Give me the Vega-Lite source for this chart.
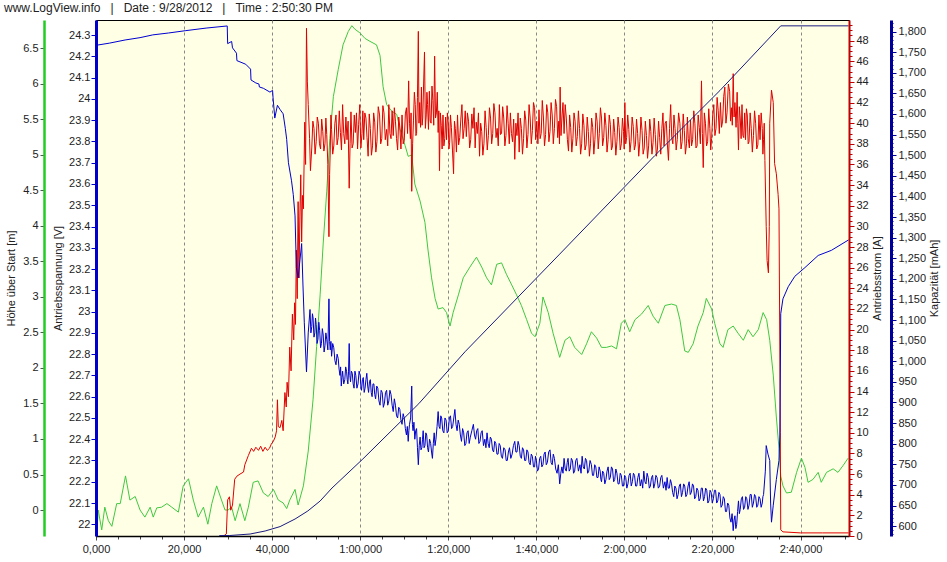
{
  "$schema": "https://vega.github.io/schema/vega-lite/v6.json",
  "width": 753,
  "height": 516,
  "autosize": "none",
  "padding": {"left": 96, "top": 20, "right": 98, "bottom": 26},
  "background": "#FFFFFF",
  "config": {
    "font": "Liberation Sans",
    "view": {"fill": "#FFFFE6", "stroke": "#000000", "strokeWidth": 1},
    "axis": {"labelFont": "Liberation Sans", "titleFont": "Liberation Sans", "labelFontSize": 11, "titleFontSize": 11, "titleFontWeight": "normal", "labelColor": "#222222", "titleColor": "#222222", "labelFlush": false, "labelOverlap": false, "labelBound": false}
  },
  "title": {"text": "www.LogView.info\u00a0\u00a0\u00a0|\u00a0\u00a0\u00a0Date : 9/28/2012\u00a0\u00a0\u00a0|\u00a0\u00a0\u00a0Time : 2:50:30 PM", "anchor": "start", "frame": "group", "dx": -92, "offset": 2, "fontSize": 12, "fontWeight": "normal", "font": "Liberation Sans", "color": "#222222"},
  "datasets": {
    "hoehe": [
      {"t":0.2,"v":-0.3},{"t":0.5,"v":0.0},{"t":1.3,"v":-0.28},{"t":2.0,"v":0.04},{"t":2.8,"v":-0.15},{"t":3.6,"v":-0.23},{"t":4.7,"v":0.09},{"t":5.5,"v":0.09},{"t":6.7,"v":0.48},{"t":7.7,"v":0.14},{"t":8.9,"v":0.19},{"t":10.0,"v":0.0},{"t":11.1,"v":-0.1},{"t":12.3,"v":0.04},{"t":13.0,"v":-0.1},{"t":13.8,"v":0.03},{"t":14.9,"v":0.04},{"t":16.1,"v":0.09},{"t":17.2,"v":0.04},{"t":18.7,"v":-0.03},{"t":19.8,"v":0.34},{"t":21.0,"v":0.44},{"t":22.1,"v":0.14},{"t":23.2,"v":-0.1},{"t":24.4,"v":0.04},{"t":25.4,"v":-0.2},{"t":26.3,"v":0.09},{"t":27.4,"v":0.34},{"t":28.5,"v":0.14},{"t":29.3,"v":0.0},{"t":30.0,"v":0.0},{"t":30.8,"v":0.04},{"t":31.6,"v":-0.15},{"t":32.7,"v":0.09},{"t":33.8,"v":-0.15},{"t":34.6,"v":0.04},{"t":35.7,"v":0.39},{"t":36.8,"v":0.41},{"t":38.0,"v":0.24},{"t":39.1,"v":0.19},{"t":40.3,"v":0.29},{"t":41.4,"v":0.14},{"t":42.5,"v":0.1},{"t":43.3,"v":0.02},{"t":44.0,"v":0.14},{"t":45.2,"v":0.29},{"t":45.9,"v":0.07},{"t":47.1,"v":0.34},{"t":48.2,"v":0.83},{"t":49.3,"v":1.56},{"t":50.1,"v":2.3},{"t":50.9,"v":3.03},{"t":51.6,"v":3.76},{"t":52.4,"v":4.49},{"t":53.1,"v":5.23},{"t":53.9,"v":5.82},{"t":55.0,"v":6.2},{"t":56.1,"v":6.55},{"t":57.3,"v":6.74},{"t":58.1,"v":6.82},{"t":58.8,"v":6.77},{"t":59.9,"v":6.72},{"t":61.1,"v":6.64},{"t":62.2,"v":6.6},{"t":63.7,"v":6.55},{"t":64.5,"v":6.4},{"t":65.2,"v":5.96},{"t":66.0,"v":5.71},{"t":67.1,"v":5.62},{"t":68.3,"v":5.57},{"t":69.0,"v":5.37},{"t":70.2,"v":5.13},{"t":70.9,"v":4.98},{"t":71.7,"v":5.0},{"t":72.4,"v":4.59},{"t":73.6,"v":4.35},{"t":74.7,"v":4.05},{"t":75.4,"v":3.66},{"t":76.2,"v":3.27},{"t":77.0,"v":2.98},{"t":77.7,"v":2.83},{"t":78.8,"v":2.85},{"t":79.6,"v":2.78},{"t":80.4,"v":2.59},{"t":81.1,"v":2.78},{"t":82.3,"v":3.03},{"t":83.4,"v":3.27},{"t":84.9,"v":3.42},{"t":86.4,"v":3.56},{"t":87.6,"v":3.42},{"t":88.7,"v":3.27},{"t":89.8,"v":3.17},{"t":91.0,"v":3.46},{"t":92.1,"v":3.48},{"t":93.2,"v":3.32},{"t":94.4,"v":3.17},{"t":95.5,"v":3.03},{"t":96.6,"v":2.88},{"t":97.8,"v":2.68},{"t":98.9,"v":2.49},{"t":99.7,"v":2.44},{"t":100.8,"v":2.63},{"t":101.5,"v":3.0},{"t":102.7,"v":2.78},{"t":103.8,"v":2.49},{"t":105.3,"v":2.15},{"t":106.5,"v":2.39},{"t":107.6,"v":2.44},{"t":108.7,"v":2.29},{"t":110.3,"v":2.19},{"t":111.4,"v":2.34},{"t":112.5,"v":2.51},{"t":113.7,"v":2.42},{"t":114.8,"v":2.29},{"t":115.9,"v":2.29},{"t":117.1,"v":2.31},{"t":118.2,"v":2.27},{"t":119.3,"v":2.63},{"t":120.1,"v":2.68},{"t":121.2,"v":2.51},{"t":122.4,"v":2.68},{"t":123.9,"v":2.76},{"t":125.4,"v":2.88},{"t":126.5,"v":2.73},{"t":127.7,"v":2.63},{"t":129.2,"v":2.88},{"t":130.7,"v":2.9},{"t":131.8,"v":2.88},{"t":132.6,"v":2.68},{"t":133.7,"v":2.24},{"t":134.5,"v":2.22},{"t":135.6,"v":2.34},{"t":136.7,"v":2.59},{"t":137.9,"v":2.78},{"t":138.6,"v":2.98},{"t":139.8,"v":2.83},{"t":140.5,"v":2.63},{"t":141.7,"v":2.34},{"t":142.4,"v":2.29},{"t":143.5,"v":2.54},{"t":144.7,"v":2.59},{"t":145.8,"v":2.49},{"t":147.0,"v":2.39},{"t":148.1,"v":2.54},{"t":149.2,"v":2.44},{"t":150.4,"v":2.54},{"t":151.5,"v":2.78},{"t":152.3,"v":2.68},{"t":153.0,"v":2.39},{"t":153.8,"v":1.9},{"t":154.5,"v":1.31},{"t":155.1,"v":0.87},{"t":155.5,"v":0.48},{"t":156.0,"v":0.34},{"t":156.8,"v":0.24},{"t":157.9,"v":0.25},{"t":159.1,"v":0.53},{"t":160.2,"v":0.73},{"t":161.0,"v":0.6},{"t":161.7,"v":0.39},{"t":162.8,"v":0.43},{"t":164.0,"v":0.53},{"t":164.7,"v":0.39},{"t":165.9,"v":0.53},{"t":167.4,"v":0.58},{"t":168.5,"v":0.53},{"t":169.7,"v":0.63},{"t":170.8,"v":0.73}
    ],
    "strom": [
      {"t":29.0,"v":0},{"t":29.6,"v":0.2},{"t":29.9,"v":3.5},{"t":30.3,"v":3.8},{"t":30.6,"v":2.5},{"t":31.0,"v":3.0},{"t":31.5,"v":5.5},{"t":32.0,"v":5.8},{"t":32.7,"v":6.0},{"t":33.5,"v":6.2},{"t":33.8,"v":6.9},{"t":34.6,"v":7.8},{"t":35.3,"v":8.5},{"t":35.8,"v":8.2},{"t":36.3,"v":8.6},{"t":36.9,"v":8.3},{"t":37.4,"v":8.7},{"t":37.9,"v":8.2},{"t":38.4,"v":8.6},{"t":38.9,"v":8.3},{"t":39.4,"v":8.5},{"t":39.8,"v":8.9},{"t":40.3,"v":9.2},{"t":40.7,"v":9.6},{"t":41.0,"v":10.2},{"t":41.2,"v":13.2},{"t":41.4,"v":10.6},{"t":41.8,"v":10.5},{"t":42.2,"v":11.2},{"t":42.5,"v":10.2},{"t":42.9,"v":13.9},{"t":43.2,"v":12.5},{"t":43.4,"v":14.9},{"t":43.7,"v":13.5},{"t":44.0,"v":18.3},{"t":44.3,"v":16.0},{"t":44.6,"v":21.5},{"t":44.9,"v":19.0},{"t":45.1,"v":22.6},{"t":45.3,"v":20.5},{"t":45.5,"v":27.7},{"t":45.7,"v":23.0},{"t":45.9,"v":32.4},{"t":46.1,"v":25.0},{"t":46.3,"v":31.0},{"t":46.5,"v":35.0},{"t":46.7,"v":28.5},{"t":46.9,"v":33.0},{"t":47.1,"v":31.7},{"t":47.4,"v":40.1},{"t":47.6,"v":36.0},{"t":47.8,"v":49.2},{"t":48.0,"v":44.0},{"t":48.2,"v":41.8},{"t":48.5,"v":38.5},{"t":48.7,"v":35.4},
      {"t":49.0,"v":37.6},{"t":49.25,"v":40.2},{"t":49.5,"v":39.5},{"t":49.75,"v":37.0},{"t":50.0,"v":38.2},{"t":50.25,"v":40.6},{"t":50.5,"v":40.0},{"t":50.75,"v":38.0},{"t":51.0,"v":37.5},{"t":51.25,"v":40.4},{"t":51.5,"v":39.2},{"t":51.75,"v":37.3},{"t":52.0,"v":38.0},{"t":52.2,"v":40.5},{"t":52.4,"v":38.9},{"t":52.65,"v":36.0},{"t":52.9,"v":29.0},{"t":53.05,"v":35.0},{"t":53.2,"v":37.5},{"t":53.35,"v":40.8},{"t":53.5,"v":39.4},{"t":53.75,"v":37.0},{"t":54.0,"v":37.8},{"t":54.25,"v":40.0},{"t":54.5,"v":40.8},{"t":54.75,"v":37.9},{"t":55.0,"v":38.6},{"t":55.25,"v":41.2},{"t":55.5,"v":39.1},{"t":55.75,"v":37.4},{"t":56.0,"v":41.8},{"t":56.25,"v":39.0},{"t":56.5,"v":38.0},{"t":56.75,"v":40.6},{"t":57.0,"v":38.4},{"t":57.25,"v":40.2},{"t":57.5,"v":33.7},{"t":57.7,"v":38.0},{"t":57.9,"v":41.1},{"t":58.15,"v":37.6},{"t":58.4,"v":38.0},{"t":58.65,"v":40.8},{"t":58.9,"v":39.1},{"t":59.15,"v":41.0},{"t":59.4,"v":37.5},{"t":59.65,"v":39.9},{"t":59.9,"v":41.8},{"t":60.15,"v":37.6},{"t":60.4,"v":39.0},{"t":60.6,"v":41.2},{"t":60.8,"v":38.4},{"t":61.05,"v":41.0},{"t":61.3,"v":40.5},{"t":61.55,"v":38.6},{"t":61.8,"v":36.8},{"t":62.05,"v":40.9},{"t":62.3,"v":39.5},{"t":62.55,"v":36.9},{"t":62.8,"v":37.8},{"t":63.05,"v":41.0},{"t":63.3,"v":40.1},{"t":63.55,"v":37.2},{"t":63.8,"v":38.2},{"t":64.1,"v":41.6},{"t":64.4,"v":40.8},{"t":64.65,"v":38.0},{"t":64.9,"v":38.5},{"t":65.15,"v":41.7},{"t":65.4,"v":41.0},{"t":65.7,"v":38.4},{"t":66.0,"v":39.4},{"t":66.25,"v":37.8},{"t":66.5,"v":41.8},{"t":66.75,"v":39.0},{"t":67.0,"v":38.5},{"t":67.25,"v":41.2},{"t":67.5,"v":38.8},{"t":67.75,"v":41.5},{"t":68.0,"v":40.2},{"t":68.25,"v":38.5},{"t":68.5,"v":37.4},{"t":68.75,"v":40.6},{"t":69.0,"v":39.6},{"t":69.25,"v":37.5},{"t":69.5,"v":40.8},{"t":69.75,"v":38.0},{"t":70.0,"v":38.3},{"t":70.25,"v":40.9},{"t":70.5,"v":41.5},{"t":70.75,"v":39.0},{"t":71.0,"v":44.1},{"t":71.2,"v":40.0},{"t":71.4,"v":38.5},{"t":71.55,"v":41.0},{"t":71.7,"v":33.4},{"t":71.9,"v":38.0},{"t":72.1,"v":40.3},{"t":72.3,"v":43.0},{"t":72.5,"v":41.8},{"t":72.65,"v":38.8},{"t":72.8,"v":39.0},{"t":73.0,"v":42.5},{"t":73.2,"v":48.9},{"t":73.35,"v":40.0},{"t":73.5,"v":42.0},{"t":73.7,"v":39.6},{"t":73.9,"v":43.5},{"t":74.05,"v":39.8},{"t":74.2,"v":40.5},{"t":74.4,"v":43.8},{"t":74.6,"v":46.9},{"t":74.8,"v":39.5},{"t":75.0,"v":40.8},{"t":75.15,"v":43.0},{"t":75.3,"v":41.8},{"t":75.5,"v":39.4},{"t":75.7,"v":43.1},{"t":75.9,"v":40.2},{"t":76.1,"v":40.0},{"t":76.3,"v":43.6},{"t":76.5,"v":42.2},{"t":76.7,"v":39.8},{"t":76.9,"v":46.5},{"t":77.1,"v":40.5},{"t":77.3,"v":41.0},{"t":77.5,"v":43.0},{"t":77.7,"v":39.1},{"t":77.85,"v":41.2},{"t":78.0,"v":35.4},{"t":78.2,"v":41.0},{"t":78.4,"v":39.8},{"t":78.6,"v":37.5},{"t":78.8,"v":40.8},{"t":79.0,"v":37.8},{"t":79.2,"v":38.5},{"t":79.4,"v":40.6},{"t":79.6,"v":38.4},{"t":79.8,"v":41.0},{"t":80.0,"v":40.0},{"t":80.15,"v":37.5},{"t":80.3,"v":38.1},{"t":80.5,"v":40.8},{"t":80.7,"v":39.6},{"t":80.95,"v":37.4},{"t":81.2,"v":35.1},{"t":81.4,"v":40.2},{"t":81.6,"v":39.5},{"t":81.85,"v":37.2},{"t":82.1,"v":40.8},{"t":82.35,"v":37.9},{"t":82.6,"v":38.6},{"t":82.85,"v":40.4},{"t":83.1,"v":41.8},{"t":83.35,"v":38.5},{"t":83.6,"v":39.5},{"t":83.85,"v":41.2},{"t":84.1,"v":38.7},{"t":84.35,"v":41.0},{"t":84.6,"v":40.2},{"t":84.85,"v":37.6},{"t":85.1,"v":38.4},{"t":85.35,"v":40.9},{"t":85.6,"v":39.5},{"t":85.85,"v":41.5},{"t":86.1,"v":37.6},{"t":86.35,"v":40.1},{"t":86.6,"v":39.0},{"t":86.85,"v":41.0},{"t":87.1,"v":36.8},{"t":87.35,"v":40.0},{"t":87.6,"v":39.2},{"t":87.85,"v":36.9},{"t":88.1,"v":38.0},{"t":88.35,"v":41.2},{"t":88.6,"v":39.6},{"t":88.85,"v":37.4},{"t":89.1,"v":38.8},{"t":89.35,"v":41.5},{"t":89.6,"v":40.5},{"t":89.85,"v":38.0},{"t":90.1,"v":39.0},{"t":90.35,"v":41.9},{"t":90.6,"v":41.0},{"t":90.85,"v":38.6},{"t":91.1,"v":39.5},{"t":91.35,"v":37.8},{"t":91.6,"v":41.8},{"t":91.85,"v":38.9},{"t":92.1,"v":39.0},{"t":92.35,"v":41.6},{"t":92.6,"v":40.5},{"t":92.85,"v":37.8},{"t":93.1,"v":38.8},{"t":93.35,"v":41.7},{"t":93.6,"v":40.0},{"t":93.85,"v":38.0},{"t":94.1,"v":41.0},{"t":94.35,"v":39.0},{"t":94.6,"v":38.2},{"t":94.85,"v":40.4},{"t":95.1,"v":36.5},{"t":95.35,"v":40.0},{"t":95.6,"v":38.8},{"t":95.85,"v":41.0},{"t":96.1,"v":37.2},{"t":96.35,"v":40.5},{"t":96.6,"v":39.5},{"t":96.85,"v":37.0},{"t":97.1,"v":38.5},{"t":97.35,"v":41.2},{"t":97.6,"v":40.3},{"t":97.85,"v":37.6},{"t":98.1,"v":38.9},{"t":98.35,"v":41.8},{"t":98.6,"v":40.5},{"t":98.85,"v":38.0},{"t":99.1,"v":39.3},{"t":99.35,"v":42.0},{"t":99.6,"v":41.5},{"t":99.85,"v":38.4},{"t":100.1,"v":40.2},{"t":100.35,"v":38.0},{"t":100.6,"v":41.3},{"t":100.85,"v":38.5},{"t":101.1,"v":39.0},{"t":101.35,"v":42.2},{"t":101.6,"v":40.6},{"t":101.85,"v":37.8},{"t":102.1,"v":38.9},{"t":102.35,"v":41.8},{"t":102.6,"v":41.0},{"t":102.85,"v":38.2},{"t":103.1,"v":39.2},{"t":103.35,"v":42.0},{"t":103.6,"v":40.8},{"t":103.85,"v":38.0},{"t":104.1,"v":39.5},{"t":104.35,"v":42.3},{"t":104.6,"v":41.6},{"t":104.85,"v":38.6},{"t":105.1,"v":40.2},{"t":105.25,"v":38.0},{"t":105.4,"v":43.5},{"t":105.6,"v":38.8},{"t":105.8,"v":40.5},{"t":106.05,"v":42.0},{"t":106.3,"v":39.0},{"t":106.55,"v":41.8},{"t":106.8,"v":40.5},{"t":107.05,"v":38.4},{"t":107.3,"v":37.3},{"t":107.55,"v":40.8},{"t":107.8,"v":39.6},{"t":108.05,"v":37.2},{"t":108.3,"v":38.5},{"t":108.55,"v":41.0},{"t":108.8,"v":40.2},{"t":109.05,"v":37.8},{"t":109.3,"v":38.7},{"t":109.55,"v":41.2},{"t":109.8,"v":39.5},{"t":110.05,"v":37.0},{"t":110.3,"v":38.0},{"t":110.55,"v":40.9},{"t":110.8,"v":39.8},{"t":111.05,"v":37.4},{"t":111.3,"v":37.9},{"t":111.55,"v":40.6},{"t":111.8,"v":39.2},{"t":112.05,"v":36.8},{"t":112.3,"v":38.0},{"t":112.55,"v":40.5},{"t":112.8,"v":39.6},{"t":113.05,"v":37.0},{"t":113.3,"v":38.4},{"t":113.55,"v":41.0},{"t":113.8,"v":40.2},{"t":114.05,"v":37.5},{"t":114.3,"v":39.0},{"t":114.55,"v":41.5},{"t":114.8,"v":40.5},{"t":115.05,"v":37.8},{"t":115.3,"v":38.6},{"t":115.55,"v":41.0},{"t":115.8,"v":39.8},{"t":116.05,"v":37.2},{"t":116.3,"v":38.4},{"t":116.55,"v":40.8},{"t":116.8,"v":39.9},{"t":117.05,"v":37.4},{"t":117.3,"v":37.8},{"t":117.55,"v":40.4},{"t":117.8,"v":39.1},{"t":118.05,"v":36.9},{"t":118.3,"v":38.2},{"t":118.55,"v":40.6},{"t":118.8,"v":39.6},{"t":119.05,"v":37.4},{"t":119.3,"v":38.0},{"t":119.55,"v":40.5},{"t":119.8,"v":39.2},{"t":119.95,"v":37.5},{"t":120.1,"v":42.0},{"t":120.3,"v":38.0},{"t":120.5,"v":38.6},{"t":120.75,"v":40.8},{"t":121.0,"v":39.4},{"t":121.25,"v":37.2},{"t":121.5,"v":38.2},{"t":121.75,"v":40.6},{"t":122.0,"v":39.7},{"t":122.25,"v":37.4},{"t":122.5,"v":37.9},{"t":122.75,"v":40.4},{"t":123.0,"v":39.0},{"t":123.25,"v":36.8},{"t":123.5,"v":38.2},{"t":123.75,"v":40.6},{"t":124.0,"v":39.3},{"t":124.25,"v":37.0},{"t":124.5,"v":37.6},{"t":124.75,"v":40.2},{"t":125.0,"v":38.8},{"t":125.25,"v":36.6},{"t":125.5,"v":37.8},{"t":125.75,"v":40.4},{"t":126.0,"v":39.2},{"t":126.25,"v":37.0},{"t":126.5,"v":38.1},{"t":126.75,"v":40.5},{"t":127.0,"v":38.9},{"t":127.25,"v":36.8},{"t":127.5,"v":37.5},{"t":127.75,"v":40.2},{"t":128.0,"v":38.6},{"t":128.25,"v":37.0},{"t":128.5,"v":39.5},{"t":128.75,"v":41.0},{"t":129.0,"v":37.8},{"t":129.25,"v":40.0},{"t":129.5,"v":40.2},{"t":129.75,"v":38.0},{"t":130.0,"v":36.4},{"t":130.25,"v":39.5},{"t":130.5,"v":41.8},{"t":130.75,"v":38.6},{"t":131.0,"v":38.0},{"t":131.25,"v":40.8},{"t":131.5,"v":39.5},{"t":131.75,"v":37.4},{"t":132.0,"v":38.4},{"t":132.3,"v":41.0},{"t":132.6,"v":40.0},{"t":132.85,"v":37.5},{"t":133.1,"v":38.2},{"t":133.35,"v":40.9},{"t":133.6,"v":39.3},{"t":133.85,"v":37.0},{"t":134.1,"v":38.0},{"t":134.3,"v":40.6},{"t":134.5,"v":38.5},{"t":134.75,"v":37.6},{"t":135.0,"v":40.3},{"t":135.25,"v":37.8},{"t":135.5,"v":38.4},{"t":135.75,"v":41.2},{"t":136.0,"v":40.0},{"t":136.25,"v":37.6},{"t":136.5,"v":37.8},{"t":136.75,"v":40.8},{"t":137.0,"v":39.6},{"t":137.25,"v":38.0},{"t":137.5,"v":44.1},{"t":137.7,"v":39.0},{"t":137.9,"v":35.7},{"t":138.15,"v":41.0},{"t":138.4,"v":40.0},{"t":138.65,"v":37.8},{"t":138.9,"v":38.2},{"t":139.15,"v":41.4},{"t":139.4,"v":39.5},{"t":139.6,"v":37.4},{"t":139.8,"v":38.5},{"t":140.05,"v":40.8},{"t":140.3,"v":41.8},{"t":140.55,"v":38.8},{"t":140.8,"v":39.5},{"t":141.05,"v":42.5},{"t":141.3,"v":41.2},{"t":141.55,"v":39.0},{"t":141.8,"v":42.0},{"t":142.05,"v":39.6},{"t":142.3,"v":40.2},{"t":142.55,"v":42.6},{"t":142.8,"v":43.5},{"t":143.05,"v":40.0},{"t":143.3,"v":41.0},{"t":143.6,"v":43.8},{"t":143.9,"v":43.1},{"t":144.1,"v":40.2},{"t":144.3,"v":41.5},{"t":144.5,"v":39.8},{"t":144.7,"v":44.8},{"t":144.9,"v":40.6},{"t":145.1,"v":42.0},{"t":145.35,"v":39.6},{"t":145.6,"v":43.0},{"t":145.75,"v":40.0},{"t":145.9,"v":37.4},{"t":146.1,"v":41.6},{"t":146.3,"v":40.5},{"t":146.5,"v":38.5},{"t":146.7,"v":41.8},{"t":146.9,"v":38.8},{"t":147.1,"v":38.6},{"t":147.3,"v":41.0},{"t":147.5,"v":38.4},{"t":147.7,"v":41.4},{"t":147.9,"v":40.8},{"t":148.1,"v":38.0},{"t":148.3,"v":38.2},{"t":148.55,"v":41.0},{"t":148.8,"v":39.5},{"t":149.05,"v":37.2},{"t":149.3,"v":38.8},{"t":149.55,"v":41.2},{"t":149.8,"v":40.0},{"t":150.05,"v":37.5},{"t":150.3,"v":37.9},{"t":150.55,"v":40.8},{"t":150.8,"v":38.4},{"t":151.05,"v":41.0},{"t":151.3,"v":39.5},{"t":151.45,"v":37.0},{"t":151.6,"v":38.4},{"t":151.75,"v":40.0},{"t":151.9,"v":36.4},{"t":152.2,"v":30.0},{"t":152.4,"v":26.7},{"t":152.7,"v":25.5},{"t":152.9,"v":30.0},{"t":153.0,"v":40.0},{"t":153.4,"v":43.2},{"t":153.8,"v":42.0},{"t":154.1,"v":36.1},{"t":154.5,"v":35.1},{"t":154.9,"v":33.1},{"t":155.1,"v":31.7},{"t":155.4,"v":10.0},{"t":155.5,"v":0.6},{"t":156.0,"v":0.4},{"t":160.0,"v":0.3},{"t":165.0,"v":0.3},{"t":170.9,"v":0.3}
    ],
    "spannung": [
      {"t":0,"v":24.252},{"t":3,"v":24.262},{"t":6.6,"v":24.277},{"t":10,"v":24.288},{"t":12.9,"v":24.301},{"t":16.5,"v":24.31},{"t":20.4,"v":24.321},{"t":25,"v":24.333},{"t":29.8,"v":24.343},{"t":29.9,"v":24.26},{"t":30.8,"v":24.27},{"t":31.0,"v":24.24},{"t":31.9,"v":24.215},{"t":32.0,"v":24.18},{"t":34.0,"v":24.163},{"t":35.1,"v":24.14},{"t":35.2,"v":24.089},{"t":36.3,"v":24.075},{"t":37.0,"v":24.07},{"t":37.1,"v":24.056},{"t":38.0,"v":24.05},{"t":39.5,"v":24.032},{"t":40.1,"v":24.04},{"t":40.2,"v":24.008},{"t":40.6,"v":23.91},{"t":41.2,"v":23.97},{"t":41.8,"v":23.95},{"t":42.5,"v":23.93},{"t":43.0,"v":23.86},{"t":43.3,"v":23.81},{"t":43.7,"v":23.70},{"t":44.4,"v":23.615},{"t":44.8,"v":23.55},{"t":45.2,"v":23.45},{"t":45.5,"v":23.207},{"t":45.9,"v":23.158},{"t":46.7,"v":23.32},{"t":47.0,"v":23.125},{"t":47.3,"v":22.95},{"t":47.8,"v":22.716},{"t":48.2,"v":22.90},
      {"t":48.6,"v":23.01},{"t":48.8,"v":22.90},{"t":49.0,"v":22.93},{"t":49.15,"v":22.99},{"t":49.3,"v":22.97},{"t":49.5,"v":22.88},{"t":49.7,"v":22.90},{"t":49.85,"v":22.97},{"t":50.0,"v":22.94},{"t":50.2,"v":22.85},{"t":50.4,"v":22.87},{"t":50.6,"v":22.95},{"t":50.8,"v":22.91},{"t":51.0,"v":22.83},{"t":51.2,"v":22.85},{"t":51.4,"v":22.92},{"t":51.6,"v":22.89},{"t":51.8,"v":22.81},{"t":52.0,"v":22.84},{"t":52.2,"v":22.90},{"t":52.4,"v":22.87},{"t":52.65,"v":22.82},{"t":52.9,"v":23.06},{"t":53.05,"v":22.86},{"t":53.2,"v":22.82},{"t":53.35,"v":22.86},{"t":53.5,"v":22.79},{"t":53.75,"v":22.85},{"t":54.0,"v":22.83},{"t":54.25,"v":22.77},{"t":54.5,"v":22.75},{"t":54.75,"v":22.80},{"t":55.0,"v":22.78},{"t":55.2,"v":22.73},{"t":55.4,"v":22.70},{"t":55.55,"v":22.74},{"t":55.7,"v":22.65},{"t":55.85,"v":22.69},{"t":56.0,"v":22.72},{"t":56.25,"v":22.66},{"t":56.5,"v":22.68},{"t":56.7,"v":22.74},{"t":56.9,"v":22.72},{"t":57.05,"v":22.68},{"t":57.2,"v":22.66},{"t":57.35,"v":22.72},{"t":57.5,"v":22.85},{"t":57.65,"v":22.70},{"t":57.8,"v":22.67},{"t":58.0,"v":22.72},{"t":58.2,"v":22.71},{"t":58.4,"v":22.66},{"t":58.6,"v":22.64},{"t":58.8,"v":22.72},{"t":59.0,"v":22.70},{"t":59.25,"v":22.64},{"t":59.5,"v":22.66},{"t":59.75,"v":22.72},{"t":60.0,"v":22.70},{"t":60.15,"v":22.65},{"t":60.3,"v":22.63},{"t":60.5,"v":22.68},{"t":60.7,"v":22.69},{"t":60.9,"v":22.62},{"t":61.1,"v":22.64},{"t":61.3,"v":22.68},{"t":61.5,"v":22.71},{"t":61.7,"v":22.65},{"t":61.9,"v":22.62},{"t":62.1,"v":22.67},{"t":62.3,"v":22.68},{"t":62.5,"v":22.62},{"t":62.7,"v":22.60},{"t":62.9,"v":22.66},{"t":63.1,"v":22.66},{"t":63.3,"v":22.61},{"t":63.5,"v":22.59},{"t":63.75,"v":22.65},{"t":64.0,"v":22.64},{"t":64.25,"v":22.58},{"t":64.5,"v":22.56},{"t":64.75,"v":22.63},{"t":65.0,"v":22.62},{"t":65.25,"v":22.55},{"t":65.5,"v":22.57},{"t":65.75,"v":22.62},{"t":66.0,"v":22.63},{"t":66.25,"v":22.56},{"t":66.5,"v":22.58},{"t":66.75,"v":22.63},{"t":67.0,"v":22.61},{"t":67.25,"v":22.56},{"t":67.5,"v":22.53},{"t":67.75,"v":22.59},{"t":68.0,"v":22.56},{"t":68.25,"v":22.51},{"t":68.5,"v":22.50},{"t":68.75,"v":22.55},{"t":69.0,"v":22.54},{"t":69.25,"v":22.49},{"t":69.5,"v":22.47},{"t":69.75,"v":22.52},{"t":70.0,"v":22.50},{"t":70.25,"v":22.45},{"t":70.5,"v":22.42},{"t":70.7,"v":22.46},{"t":70.9,"v":22.39},{"t":71.05,"v":22.44},{"t":71.2,"v":22.47},{"t":71.45,"v":22.50},{"t":71.7,"v":22.65},{"t":71.85,"v":22.47},{"t":72.0,"v":22.44},{"t":72.2,"v":22.48},{"t":72.4,"v":22.40},{"t":72.6,"v":22.44},{"t":72.8,"v":22.45},{"t":73.0,"v":22.36},{"t":73.2,"v":22.28},{"t":73.4,"v":22.37},{"t":73.6,"v":22.41},{"t":73.8,"v":22.35},{"t":74.0,"v":22.36},{"t":74.15,"v":22.40},{"t":74.3,"v":22.44},{"t":74.5,"v":22.36},{"t":74.7,"v":22.37},{"t":74.9,"v":22.43},{"t":75.1,"v":22.42},{"t":75.3,"v":22.36},{"t":75.5,"v":22.34},{"t":75.75,"v":22.40},{"t":76.0,"v":22.38},{"t":76.2,"v":22.34},{"t":76.4,"v":22.31},{"t":76.6,"v":22.38},{"t":76.8,"v":22.43},{"t":77.0,"v":22.37},{"t":77.2,"v":22.40},{"t":77.45,"v":22.46},{"t":77.7,"v":22.53},{"t":77.9,"v":22.46},{"t":78.1,"v":22.45},{"t":78.3,"v":22.51},{"t":78.5,"v":22.50},{"t":78.75,"v":22.44},{"t":79.0,"v":22.43},{"t":79.25,"v":22.50},{"t":79.5,"v":22.49},{"t":79.75,"v":22.43},{"t":80.0,"v":22.44},{"t":80.25,"v":22.50},{"t":80.5,"v":22.51},{"t":80.75,"v":22.45},{"t":81.0,"v":22.46},{"t":81.25,"v":22.50},{"t":81.5,"v":22.54},{"t":81.75,"v":22.47},{"t":82.0,"v":22.44},{"t":82.25,"v":22.49},{"t":82.5,"v":22.47},{"t":82.75,"v":22.42},{"t":83.0,"v":22.39},{"t":83.25,"v":22.45},{"t":83.5,"v":22.43},{"t":83.75,"v":22.37},{"t":84.0,"v":22.38},{"t":84.25,"v":22.43},{"t":84.5,"v":22.44},{"t":84.75,"v":22.38},{"t":85.0,"v":22.41},{"t":85.35,"v":22.44},{"t":85.7,"v":22.47},{"t":85.95,"v":22.42},{"t":86.2,"v":22.40},{"t":86.45,"v":22.44},{"t":86.7,"v":22.45},{"t":86.95,"v":22.38},{"t":87.2,"v":22.39},{"t":87.45,"v":22.43},{"t":87.7,"v":22.44},{"t":88.0,"v":22.37},{"t":88.3,"v":22.40},{"t":88.55,"v":22.36},{"t":88.8,"v":22.43},{"t":89.05,"v":22.38},{"t":89.3,"v":22.36},{"t":89.55,"v":22.41},{"t":89.8,"v":22.40},{"t":90.05,"v":22.35},{"t":90.3,"v":22.34},{"t":90.55,"v":22.39},{"t":90.8,"v":22.38},{"t":91.05,"v":22.33},{"t":91.3,"v":22.33},{"t":91.55,"v":22.38},{"t":91.8,"v":22.37},{"t":92.05,"v":22.32},{"t":92.3,"v":22.31},{"t":92.6,"v":22.36},{"t":92.9,"v":22.35},{"t":93.15,"v":22.30},{"t":93.4,"v":22.30},{"t":93.65,"v":22.34},{"t":93.9,"v":22.36},{"t":94.2,"v":22.31},{"t":94.5,"v":22.33},{"t":94.8,"v":22.37},{"t":95.1,"v":22.39},{"t":95.35,"v":22.34},{"t":95.6,"v":22.34},{"t":95.85,"v":22.39},{"t":96.1,"v":22.37},{"t":96.35,"v":22.32},{"t":96.6,"v":22.31},{"t":96.85,"v":22.36},{"t":97.1,"v":22.35},{"t":97.35,"v":22.30},{"t":97.6,"v":22.30},{"t":97.85,"v":22.35},{"t":98.1,"v":22.34},{"t":98.35,"v":22.29},{"t":98.6,"v":22.28},{"t":98.85,"v":22.33},{"t":99.1,"v":22.32},{"t":99.35,"v":22.27},{"t":99.6,"v":22.27},{"t":99.8,"v":22.32},{"t":100.0,"v":22.30},{"t":100.25,"v":22.25},{"t":100.5,"v":22.26},{"t":100.75,"v":22.31},{"t":101.0,"v":22.32},{"t":101.25,"v":22.27},{"t":101.5,"v":22.28},{"t":101.75,"v":22.33},{"t":102.0,"v":22.34},{"t":102.25,"v":22.28},{"t":102.5,"v":22.29},{"t":102.8,"v":22.34},{"t":103.1,"v":22.35},{"t":103.35,"v":22.29},{"t":103.6,"v":22.28},{"t":103.85,"v":22.33},{"t":104.1,"v":22.31},{"t":104.4,"v":22.26},{"t":104.7,"v":22.24},{"t":105.0,"v":22.28},{"t":105.3,"v":22.19},{"t":105.55,"v":22.24},{"t":105.8,"v":22.27},{"t":106.05,"v":22.24},{"t":106.3,"v":22.31},{"t":106.55,"v":22.26},{"t":106.8,"v":22.25},{"t":107.0,"v":22.29},{"t":107.2,"v":22.31},{"t":107.45,"v":22.25},{"t":107.7,"v":22.26},{"t":107.95,"v":22.31},{"t":108.2,"v":22.30},{"t":108.45,"v":22.24},{"t":108.7,"v":22.25},{"t":108.95,"v":22.30},{"t":109.2,"v":22.31},{"t":109.55,"v":22.25},{"t":109.9,"v":22.28},{"t":110.15,"v":22.24},{"t":110.4,"v":22.32},{"t":110.65,"v":22.27},{"t":110.9,"v":22.26},{"t":111.15,"v":22.31},{"t":111.4,"v":22.30},{"t":111.65,"v":22.24},{"t":111.9,"v":22.25},{"t":112.2,"v":22.30},{"t":112.5,"v":22.28},{"t":112.75,"v":22.23},{"t":113.0,"v":22.23},{"t":113.25,"v":22.28},{"t":113.5,"v":22.27},{"t":113.75,"v":22.22},{"t":114.0,"v":22.22},{"t":114.25,"v":22.27},{"t":114.5,"v":22.25},{"t":114.65,"v":22.21},{"t":114.8,"v":22.20},{"t":115.05,"v":22.25},{"t":115.3,"v":22.24},{"t":115.55,"v":22.19},{"t":115.8,"v":22.21},{"t":116.05,"v":22.25},{"t":116.3,"v":22.27},{"t":116.55,"v":22.21},{"t":116.8,"v":22.22},{"t":117.05,"v":22.27},{"t":117.3,"v":22.26},{"t":117.55,"v":22.20},{"t":117.8,"v":22.21},{"t":118.05,"v":22.26},{"t":118.3,"v":22.24},{"t":118.55,"v":22.19},{"t":118.8,"v":22.19},{"t":119.05,"v":22.24},{"t":119.3,"v":22.23},{"t":119.55,"v":22.18},{"t":119.8,"v":22.18},{"t":120.05,"v":22.23},{"t":120.3,"v":22.22},{"t":120.55,"v":22.17},{"t":120.8,"v":22.19},{"t":121.05,"v":22.23},{"t":121.3,"v":22.24},{"t":121.55,"v":22.18},{"t":121.8,"v":22.20},{"t":122.05,"v":22.24},{"t":122.3,"v":22.23},{"t":122.55,"v":22.18},{"t":122.8,"v":22.18},{"t":123.05,"v":22.22},{"t":123.3,"v":22.24},{"t":123.6,"v":22.18},{"t":123.9,"v":22.21},{"t":124.15,"v":22.17},{"t":124.4,"v":22.25},{"t":124.65,"v":22.20},{"t":124.9,"v":22.19},{"t":125.15,"v":22.24},{"t":125.4,"v":22.22},{"t":125.65,"v":22.17},{"t":125.9,"v":22.18},{"t":126.15,"v":22.22},{"t":126.4,"v":22.23},{"t":126.65,"v":22.17},{"t":126.9,"v":22.19},{"t":127.15,"v":22.23},{"t":127.4,"v":22.22},{"t":127.7,"v":22.17},{"t":128.0,"v":22.18},{"t":128.25,"v":22.22},{"t":128.5,"v":22.23},{"t":128.85,"v":22.17},{"t":129.2,"v":22.20},{"t":129.45,"v":22.16},{"t":129.7,"v":22.22},{"t":129.95,"v":22.17},{"t":130.2,"v":22.17},{"t":130.45,"v":22.21},{"t":130.7,"v":22.19},{"t":130.95,"v":22.15},{"t":131.2,"v":22.13},{"t":131.45,"v":22.18},{"t":131.7,"v":22.17},{"t":131.95,"v":22.12},{"t":132.2,"v":22.14},{"t":132.45,"v":22.18},{"t":132.7,"v":22.19},{"t":132.95,"v":22.13},{"t":133.2,"v":22.15},{"t":133.45,"v":22.19},{"t":133.7,"v":22.18},{"t":133.95,"v":22.13},{"t":134.2,"v":22.14},{"t":134.45,"v":22.18},{"t":134.7,"v":22.20},{"t":134.95,"v":22.14},{"t":135.2,"v":22.15},{"t":135.45,"v":22.19},{"t":135.7,"v":22.18},{"t":135.95,"v":22.12},{"t":136.2,"v":22.13},{"t":136.45,"v":22.17},{"t":136.7,"v":22.16},{"t":136.95,"v":22.11},{"t":137.2,"v":22.12},{"t":137.45,"v":22.17},{"t":137.7,"v":22.17},{"t":137.95,"v":22.11},{"t":138.2,"v":22.13},{"t":138.45,"v":22.17},{"t":138.7,"v":22.16},{"t":138.95,"v":22.10},{"t":139.2,"v":22.11},{"t":139.45,"v":22.16},{"t":139.7,"v":22.15},{"t":139.95,"v":22.10},{"t":140.2,"v":22.12},{"t":140.45,"v":22.16},{"t":140.7,"v":22.16},{"t":140.95,"v":22.10},{"t":141.2,"v":22.11},{"t":141.45,"v":22.15},{"t":141.7,"v":22.14},{"t":141.95,"v":22.08},{"t":142.2,"v":22.09},{"t":142.45,"v":22.13},{"t":142.7,"v":22.12},{"t":142.95,"v":22.06},{"t":143.2,"v":22.06},{"t":143.45,"v":22.10},{"t":143.7,"v":22.09},{"t":143.95,"v":22.03},{"t":144.2,"v":22.01},{"t":144.45,"v":22.05},{"t":144.7,"v":21.97},{"t":144.9,"v":22.02},{"t":145.1,"v":22.04},{"t":145.3,"v":21.98},{"t":145.5,"v":22.00},{"t":145.7,"v":22.06},{"t":145.9,"v":22.11},{"t":146.1,"v":22.05},{"t":146.3,"v":22.07},{"t":146.55,"v":22.12},{"t":146.8,"v":22.13},{"t":147.05,"v":22.07},{"t":147.3,"v":22.08},{"t":147.55,"v":22.13},{"t":147.8,"v":22.12},{"t":148.05,"v":22.07},{"t":148.3,"v":22.09},{"t":148.55,"v":22.14},{"t":148.8,"v":22.14},{"t":149.05,"v":22.08},{"t":149.3,"v":22.10},{"t":149.55,"v":22.14},{"t":149.8,"v":22.13},{"t":150.05,"v":22.08},{"t":150.3,"v":22.09},{"t":150.55,"v":22.13},{"t":150.8,"v":22.12},{"t":151.05,"v":22.08},{"t":151.3,"v":22.10},{"t":151.45,"v":22.13},{"t":151.6,"v":22.14},{"t":152.0,"v":22.25},{"t":152.2,"v":22.37},{"t":152.6,"v":22.33},{"t":153.0,"v":22.30},{"t":153.2,"v":22.10},{"t":153.4,"v":22.01},{"t":153.8,"v":22.09},{"t":154.5,"v":22.21},{"t":155.1,"v":22.30},{"t":155.3,"v":22.42},{"t":155.5,"v":22.99},{"t":156.0,"v":23.06},{"t":157.2,"v":23.117},{"t":158.7,"v":23.166},{"t":161.0,"v":23.207},{"t":164.0,"v":23.264},{"t":167.0,"v":23.288},{"t":170.9,"v":23.337}
    ],
    "kapazitaet": [
      {"t":28.0,"v":577},{"t":30.4,"v":577.2},{"t":35.0,"v":580.8},{"t":38.4,"v":588.1},{"t":41.8,"v":598.8},{"t":45.2,"v":617.2},{"t":48.1,"v":636.7},{"t":50.9,"v":660.9},{"t":53.6,"v":692.5},{"t":60.6,"v":762.9},{"t":73.3,"v":897},{"t":83.8,"v":1023},{"t":105.3,"v":1260},{"t":126.9,"v":1499},{"t":141.7,"v":1657},{"t":155.5,"v":1813.8},{"t":170.9,"v":1813.8}
    ]
  },
  "encoding": {
    "x": {
      "field": "t", "type": "quantitative",
      "scale": {"domain": [0, 171], "nice": false, "zero": false},
      "axis": {
        "title": null,
        "values": [0,5,10,15,20,25,30,35,40,45,50,55,60,65,70,75,80,85,90,95,100,105,110,115,120,125,130,135,140,145,150,155,160,165,170],
        "labelExpr": "datum.value % 20 == 0 ? (datum.value < 60 ? datum.value + ',000' : floor(datum.value / 60) + ':' + (datum.value % 60 < 10 ? '0' : '') + (datum.value % 60) + ',000') : ''",
        "grid": true,
        "gridColor": "#888888",
        "gridDash": [3, 3],
        "gridOpacity": {"condition": {"test": "datum.value % 20 == 0 && datum.value > 0", "value": 1}, "value": 0},
        "domainColor": "#000000",
        "domainWidth": 1.5,
        "tickColor": "#444444",
        "tickSize": {"condition": {"test": "datum.value % 20 == 0", "value": 4}, "value": 3},
        "labelPadding": 3,
        "zindex": 0
      }
    }
  },
  "layer": [
    {
      "data": {"name": "hoehe"},
      "mark": {"type": "line", "color": "#40C840", "strokeWidth": 1, "clip": true},
      "encoding": {
        "y": {
          "field": "v", "type": "quantitative",
          "scale": {"domain": [-0.366, 6.9], "nice": false, "zero": false},
          "axis": {"orient": "left", "offset": 52, "title": "Höhe über Start [m]", "values": [0,0.5,1,1.5,2,2.5,3,3.5,4,4.5,5,5.5,6,6.5], "format": ".1~f", "domainColor": "#22CC22", "domainWidth": 2.5, "tickColor": "#555555", "tickSize": 4, "labelPadding": 2, "titlePadding": 6, "grid": false, "zindex": 1}
        }
      }
    },
    {
      "data": {"name": "strom"},
      "mark": {"type": "line", "color": "#E00000", "strokeWidth": 1, "clip": true},
      "encoding": {
        "y": {
          "field": "v", "type": "quantitative",
          "scale": {"domain": [0, 50], "nice": false, "zero": false},
          "axis": {"orient": "right", "offset": 0, "title": "Antriebsstrom [A]", "titleAngle": 270, "titleBaseline": "top",
            "values": [0,0.5,1,1.5,2,2.5,3,3.5,4,4.5,5,5.5,6,6.5,7,7.5,8,8.5,9,9.5,10,10.5,11,11.5,12,12.5,13,13.5,14,14.5,15,15.5,16,16.5,17,17.5,18,18.5,19,19.5,20,20.5,21,21.5,22,22.5,23,23.5,24,24.5,25,25.5,26,26.5,27,27.5,28,28.5,29,29.5,30,30.5,31,31.5,32,32.5,33,33.5,34,34.5,35,35.5,36,36.5,37,37.5,38,38.5,39,39.5,40,40.5,41,41.5,42,42.5,43,43.5,44,44.5,45,45.5,46,46.5,47,47.5,48,48.5,49,49.5],
            "labelExpr": "datum.value % 2 == 0 ? format(datum.value, 'd') : ''",
            "domainColor": "#C00000", "domainWidth": 2, "tickColor": "#C00000",
            "tickSize": {"condition": {"test": "datum.value % 2 == 0", "value": 5}, "value": 3},
            "labelPadding": 2, "titlePadding": 3, "grid": false, "zindex": 1}
        }
      }
    },
    {
      "data": {"name": "spannung"},
      "mark": {"type": "line", "color": "#0000D0", "strokeWidth": 1, "clip": true},
      "encoding": {
        "y": {
          "field": "v", "type": "quantitative",
          "scale": {"domain": [21.945, 24.371], "nice": false, "zero": false},
          "axis": {"orient": "left", "offset": 0, "title": "Antriebsspannung [V]", "values": [22,22.1,22.2,22.3,22.4,22.5,22.6,22.7,22.8,22.9,23,23.1,23.2,23.3,23.4,23.5,23.6,23.7,23.8,23.9,24,24.1,24.2,24.3], "format": ".1~f", "domainColor": "#0000CC", "domainWidth": 3, "tickColor": "#0000CC", "tickSize": 5, "labelPadding": 1, "titlePadding": 5, "grid": false, "zindex": 1}
        }
      }
    },
    {
      "data": {"name": "kapazitaet"},
      "mark": {"type": "line", "color": "#1A1A80", "strokeWidth": 1, "clip": true},
      "encoding": {
        "y": {
          "field": "v", "type": "quantitative",
          "scale": {"domain": [576, 1828], "nice": false, "zero": false},
          "axis": {"orient": "right", "offset": 42, "title": "Kapazität [mAh]", "titleAngle": 270, "titleBaseline": "top",
            "values": [580,590,600,610,620,630,640,650,660,670,680,690,700,710,720,730,740,750,760,770,780,790,800,810,820,830,840,850,860,870,880,890,900,910,920,930,940,950,960,970,980,990,1000,1010,1020,1030,1040,1050,1060,1070,1080,1090,1100,1110,1120,1130,1140,1150,1160,1170,1180,1190,1200,1210,1220,1230,1240,1250,1260,1270,1280,1290,1300,1310,1320,1330,1340,1350,1360,1370,1380,1390,1400,1410,1420,1430,1440,1450,1460,1470,1480,1490,1500,1510,1520,1530,1540,1550,1560,1570,1580,1590,1600,1610,1620,1630,1640,1650,1660,1670,1680,1690,1700,1710,1720,1730,1740,1750,1760,1770,1780,1790,1800,1810,1820],
            "labelExpr": "datum.value % 50 == 0 ? format(datum.value, ',d') : ''",
            "domainColor": "#000099", "domainWidth": 3, "tickColor": "#000099",
            "tickSize": {"condition": {"test": "datum.value % 50 == 0", "value": 5}, "value": 2},
            "labelPadding": 2, "titlePadding": 3, "grid": false, "zindex": 1}
        }
      }
    }
  ],
  "resolve": {"scale": {"y": "independent"}}
}
